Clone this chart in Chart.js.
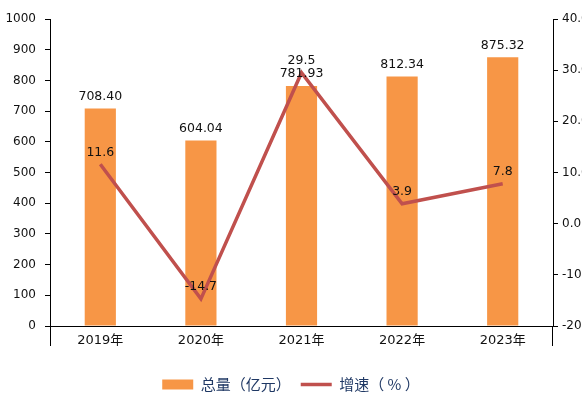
<!DOCTYPE html>
<html>
<head>
<meta charset="utf-8">
<script src="https://cdn.jsdelivr.net/npm/chart.js@4"></script>
<style>
  body { margin: 0; background: #fff; }
  #wrap { width: 582px; height: 398px; }
</style>
</head>
<body>
<div id="wrap"><canvas id="mycanvas" width="582" height="398"></canvas></div>
<script>
var years = ['2019年', '2020年', '2021年', '2022年', '2023年'];
var totals = [708.40, 604.04, 781.93, 812.34, 875.32];
var growth = [11.6, -14.7, 29.5, 3.9, 7.8];
var totalLabel = '总量（亿元）';
var growthLabel = '增速（ % ）';

var latin = "'DejaVu Sans', 'Noto Sans CJK SC', sans-serif";
var cjk = "'Noto Sans CJK SC', 'DejaVu Sans', sans-serif";

// value labels on top of bars and line points
var valueLabels = {
  id: 'valueLabels',
  afterDatasetsDraw: function(chart) {
    var ctx = chart.ctx;
    ctx.save();
    ctx.font = '12.5px ' + latin;
    ctx.fillStyle = '#111';
    ctx.textAlign = 'center';
    ctx.textBaseline = 'middle';
    chart.data.datasets.forEach(function(ds, i) {
      var meta = chart.getDatasetMeta(i);
      meta.data.forEach(function(el, j) {
        var txt = ds.type === 'bar' ? ds.data[j].toFixed(2) : String(ds.data[j]);
        ctx.fillText(txt, el.x, el.y - 12);
      });
    });
    ctx.restore();
  }
};

// the two vertical axis lines run on below the category axis
var axisTails = {
  id: 'axisTails',
  afterDraw: function(chart) {
    var a = chart.chartArea, ctx = chart.ctx;
    ctx.save();
    ctx.strokeStyle = '#000';
    ctx.lineWidth = 1;
    ctx.beginPath();
    ctx.moveTo(Math.round(a.left) + 0.5, a.bottom);
    ctx.lineTo(Math.round(a.left) + 0.5, a.bottom + 20);
    ctx.moveTo(Math.round(a.right) - 0.5, a.bottom);
    ctx.lineTo(Math.round(a.right) - 0.5, a.bottom + 20);
    ctx.stroke();
    ctx.restore();
  }
};

var chartdata = {
  labels: years,
  datasets: [
    {
      type: 'bar',
      label: totalLabel,
      data: totals,
      backgroundColor: '#F79646',
      borderWidth: 0,
      barPercentage: 0.31,
      categoryPercentage: 1,
      yAxisID: 'y',
      order: 2,
      pointStyle: 'rect'
    },
    {
      type: 'line',
      label: growthLabel,
      data: growth,
      borderColor: '#C0504D',
      backgroundColor: '#C0504D',
      borderWidth: 3.5,
      tension: 0,
      pointRadius: 0,
      fill: false,
      yAxisID: 'y1',
      order: 1,
      pointStyle: 'line'
    }
  ]
};

var ctx = document.getElementById('mycanvas');
var chart = new Chart(ctx, {
  data: chartdata,
  plugins: [valueLabels, axisTails],
  options: {
    responsive: false,
    animation: false,
    layout: { padding: { top: 19, left: 0, right: 0, bottom: -4 } },
    plugins: {
      tooltip: { enabled: false },
      legend: {
        position: 'bottom',
        labels: {
          usePointStyle: true,
          pointStyleWidth: 31,
          boxHeight: 10,
          padding: 10,
          color: '#1F3864',
          font: { family: cjk, size: 15 },
          sort: function(a, b) { return a.datasetIndex - b.datasetIndex; }
        }
      }
    },
    scales: {
      x: {
        grid: { display: false, drawTicks: false },
        border: { display: true, color: '#000', width: 1 },
        ticks: { color: '#111', padding: 7, font: { family: latin, size: 13 } },
        afterFit: function(s) { s.height = 41; }
      },
      y: {
        position: 'left',
        min: 0,
        max: 1000,
        ticks: {
          stepSize: 100,
          color: '#111',
          padding: 9,
          font: { family: latin, size: 12 },
          callback: function(v) { return String(v); }
        },
        grid: { drawOnChartArea: false, drawTicks: true, tickLength: 5, color: '#000' },
        border: { display: true, color: '#000', width: 1 },
        afterFit: function(s) { s.width = 50; }
      },
      y1: {
        position: 'right',
        min: -20,
        max: 40,
        ticks: {
          stepSize: 10,
          color: '#111',
          padding: 4,
          font: { family: latin, size: 12 },
          callback: function(v) { return Number(v).toFixed(1); }
        },
        grid: { drawOnChartArea: false, drawTicks: true, tickLength: 5, color: '#000' },
        border: { display: true, color: '#000', width: 1 },
        afterFit: function(s) { s.width = 29; }
      }
    }
  }
});
</script>
</body>
</html>
